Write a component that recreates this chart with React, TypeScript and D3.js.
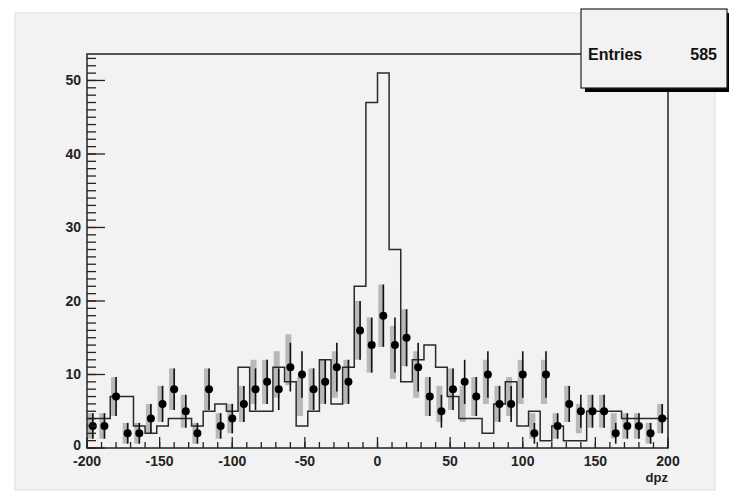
import * as d3 from "d3";

// 50 bins of width 8 from -200 to 200
const binEdges = d3.range(-200, 201, 8);
const dataCounts = [
  3, 3, 7, 2, 2, 4, 6, 8, 5, 2,
  8, 3, 4, 6, 8, 9, 8, 11, 10, 8,
  9, 11, 9, 16, 14, 18, 14, 15, 11, 7,
  5, 8, 9, 7, 10, 6, 6, 10, 2, 10,
  3, 6, 5, 5, 5, 2, 3, 3, 2, 4,
];
const refCounts = [
  4, 4, 7, 7, 3, 2, 3, 4, 4, 3,
  5, 6, 5, 11, 5, 5, 11, 9, 3, 5,
  12, 6, 11, 22, 47, 51, 27, 9, 12, 14,
  11, 7, 4, 4, 2, 6, 9, 3, 5, 1,
  3, 1, 1, 5, 5, 5, 4, 4, 4, 4,
];
const grayCounts = [
  3, 3, 7, 2, 2, 4, 6, 8, 5, 2,
  8, 3, 4, 6, 9, 9, 10, 12, 7, 8,
  9, 10, 9, 16, 14, 18, 13, 15, 10, 7,
  6, 8, 6, 7, 9, 6, 7, 9, 3, 9,
  3, 6, 4, 5, 5, 3, 3, 3, 2, 4,
];
const xTicks = [-200, -150, -100, -50, 0, 50, 100, 150, 200];
const yTicks = [0, 10, 20, 30, 40, 50];
const entries = "585";

const W = 729;
const H = 495;
const left = 87, right = 668, top = 54, bottom = 448;
const font = "'Liberation Sans', Arial, sans-serif";

export default function App() {
  const x = d3.scaleLinear().domain([-200, 200]).range([left, right]);
  const y = d3.scaleLinear().domain([0, 53.6]).range([bottom, top]);

  const stepPts: [number, number][] = refCounts.map((v, i) => [binEdges[i], v]);
  stepPts.push([200, refCounts[refCounts.length - 1]]);
  const step = d3
    .line<[number, number]>()
    .x((d) => x(d[0]))
    .y((d) => y(d[1]))
    .curve(d3.curveStepAfter)(stepPts);

  const centers = binEdges.slice(0, -1).map((e) => e + 4);
  const xMinor = d3.range(-200, 201, 10);
  const yMinor = d3.range(0, 54, 1);

  return (
    <svg width={W} height={H} style={{ position: "absolute", left: 0, top: 0 }}>
      <rect x={0} y={0} width={W} height={H} fill="#ffffff" />
      <rect x={15} y={13} width={700} height={477} fill="#f2f2f2" stroke="#dddddd" />

      {/* gray error bars */}
      {centers.map((c, i) => {
        const v = grayCounts[i];
        const e = Math.sqrt(v);
        return (
          <rect
            key={"g" + i}
            x={x(c) - 5}
            y={y(v + e)}
            width={6}
            height={y(Math.max(v - e, 0)) - y(v + e)}
            fill="#b8b8b8"
          />
        );
      })}

      <path d={step ?? ""} fill="none" stroke="#2a2a2a" strokeWidth={1.5} />

      {/* data points */}
      {centers.map((c, i) => {
        const v = dataCounts[i];
        const e = Math.sqrt(v);
        return (
          <g key={"d" + i}>
            <line
              x1={x(c)}
              x2={x(c)}
              y1={y(v + e)}
              y2={y(Math.max(v - e, 0))}
              stroke="#111"
              strokeWidth={1.6}
            />
            <circle cx={x(c)} cy={y(v)} r={4} fill="#000" />
          </g>
        );
      })}

      {/* frame */}
      <rect x={left} y={top} width={right - left} height={bottom - top} fill="none" stroke="#222" strokeWidth={1.5} />

      {/* y axis ticks */}
      {yMinor.map((t) => (
        <line key={"ym" + t} x1={left} x2={left + 9} y1={y(t)} y2={y(t)} stroke="#222" strokeWidth={1.3} />
      ))}
      {yTicks.map((t) => (
        <g key={"y" + t}>
          <line x1={left} x2={left + 18} y1={y(t)} y2={y(t)} stroke="#222" strokeWidth={1.3} />
          <text x={81} y={t === 0 ? y(t) + 2 : y(t) + 5} textAnchor="end" fontFamily={font} fontWeight="bold" fontSize={14} fill="#222">
            {t}
          </text>
        </g>
      ))}

      {/* x axis ticks */}
      {xMinor.map((t) => (
        <line key={"xm" + t} x1={x(t)} x2={x(t)} y1={bottom} y2={bottom - 6} stroke="#222" strokeWidth={1.3} />
      ))}
      {xTicks.map((t) => (
        <g key={"x" + t}>
          <line x1={x(t)} x2={x(t)} y1={bottom} y2={bottom - 11} stroke="#222" strokeWidth={1.3} />
          <text x={x(t)} y={466} textAnchor="middle" fontFamily={font} fontWeight="bold" fontSize={14} fill="#222">
            {t}
          </text>
        </g>
      ))}
      <text x={right} y={482} textAnchor="end" fontFamily={font} fontWeight="bold" fontSize={13} fill="#222">
        dpz
      </text>

      {/* stats box */}
      <rect x={585} y={13} width={146} height={79} fill="#000" />
      <rect x={581} y={9} width={146} height={79} fill="#f2f2f2" stroke="#222" strokeWidth={1.2} />
      <text x={588} y={60} fontFamily={font} fontWeight="bold" fontSize={16} fill="#111">
        Entries
      </text>
      <text x={717} y={60} textAnchor="end" fontFamily={font} fontWeight="bold" fontSize={16} fill="#111">
        {entries}
      </text>
    </svg>
  );
}
